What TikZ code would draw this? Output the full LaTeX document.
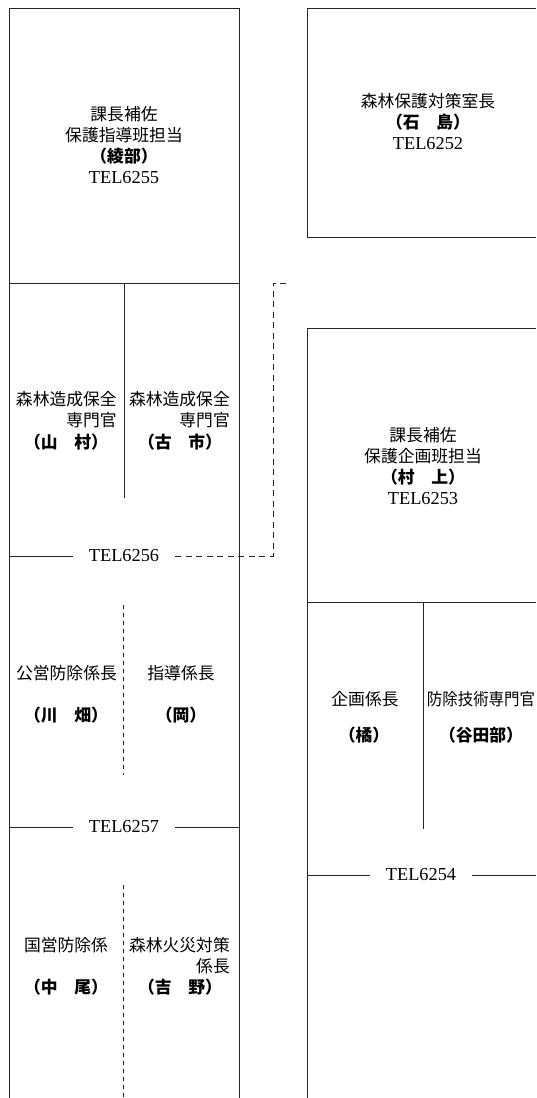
\documentclass[tikz,border=0pt]{standalone}
\usepackage{fontspec}
\newfontfamily\cjk{Noto Sans CJK JP}
\newfontfamily\telfont{Liberation Serif}
\tikzset{
  frame/.style={line width=0.9pt, draw=black!85},
  vdash/.style={frame, dash pattern=on 4pt off 4pt},
  cdash/.style={frame, dash pattern=on 6pt off 4.5pt},
  ttl/.style={font=\cjk\fontsize{16.8}{21}\selectfont, inner sep=0pt, align=center},
  ttr/.style={font=\cjk\fontsize{16.8}{21}\selectfont, inner sep=0pt, align=right},
  nm/.style={font=\cjk\bfseries\fontsize{16.8}{21}\selectfont, inner sep=0pt},
  tel/.style={font=\telfont\fontsize{18.3}{21}\selectfont, inner ysep=0pt, inner xsep=16pt},
}
\newcommand{\telt}[1]{{\telfont\fontsize{18.3}{21}\selectfont #1}}
\begin{document}
\begin{tikzpicture}[x=1pt,y=-1pt]
\useasboundingbox[fill=white] (0,0) rectangle (536,1098);

% ---------- left column frame ----------
\coordinate (LT) at (9,8);
\coordinate (RT) at (239,8);
\coordinate (LB) at (9,1098);
\coordinate (RB) at (239,1098);
\draw[frame] (LB) -- (LT) -- (RT) -- (RB);
\draw[frame] (9,283) -- (239,283);
\draw[frame] (124,283) -- (124,498);

% top box text
\node[ttl] (ayabe) at (124,145) {課長補佐\\保護指導班担当\\{\bfseries （綾部）}\\\telt{TEL6255}};

% section 2
\node[ttr, anchor=east] (zoseiL) at (117,410) {森林造成保全\\専門官};
\node[nm] (yamamura) at (66,442) {（山　村）};
\node[ttr, anchor=east] (zoseiR) at (230,410) {森林造成保全\\専門官};
\node[nm] (furuichi) at (180,442) {（古　市）};

% TEL6256 line and dashed connector
\node[tel] (t6256) at (124,556) {TEL6256};
\draw[frame] (9,556) -- (t6256.west);
\coordinate (c1) at (273,556);
\coordinate (c2) at (288,283);
\draw[cdash] (t6256.east) -- (c1) |- (c2);

% section 3
\draw[vdash] (123,605) -- (123,775);
\node[ttl] (koei) at (66.5,673) {公営防除係長};
\node[nm] (kawabata) at (66,715) {（川　畑）};
\node[ttl] (shido) at (181,673) {指導係長};
\node[nm] (oka) at (181,715) {（岡）};

% TEL6257 line
\node[tel] (t6257) at (124,827) {TEL6257};
\draw[frame] (9,827) -- (t6257.west);
\draw[frame] (t6257.east) -- (239,827);

% section 4
\draw[vdash] (123,885) -- (123,1098);
\node[ttl] (kokuei) at (66,945) {国営防除係};
\node[nm] (nakao) at (66,987) {（中　尾）};
\node[ttr, anchor=east] (kasai) at (230,956) {森林火災対策\\係長};
\node[nm] (yoshino) at (180,987) {（吉　野）};

% ---------- right column ----------
\draw[frame] (536,8) -- (307,8) -- (307,237) -- (536,237);
\node[ttl] (ishijima) at (428,121) {森林保護対策室長\\{\bfseries （石　島）}\\\telt{TEL6252}};

\draw[frame] (536,328) -- (307,328) -- (307,1098);
\draw[frame] (307,602) -- (536,602);
\draw[frame] (423,602) -- (423,829);
\node[ttl] (murakami) at (423,466) {課長補佐\\保護企画班担当\\{\bfseries （村　上）}\\\telt{TEL6253}};

\node[ttl] (kikaku) at (365,699) {企画係長};
\node[nm] (tachibana) at (364,735) {（橘）};
\node[ttl] (bojo) at (481,699) {\scalebox{0.92}[1]{防除技術専門官}};
\node[nm] (yatabe) at (481,735) {（谷田部）};

\node[tel] (t6254) at (421,875) {TEL6254};
\draw[frame] (307,875) -- (t6254.west);
\draw[frame] (t6254.east) -- (536,875);
\end{tikzpicture}
\end{document}
